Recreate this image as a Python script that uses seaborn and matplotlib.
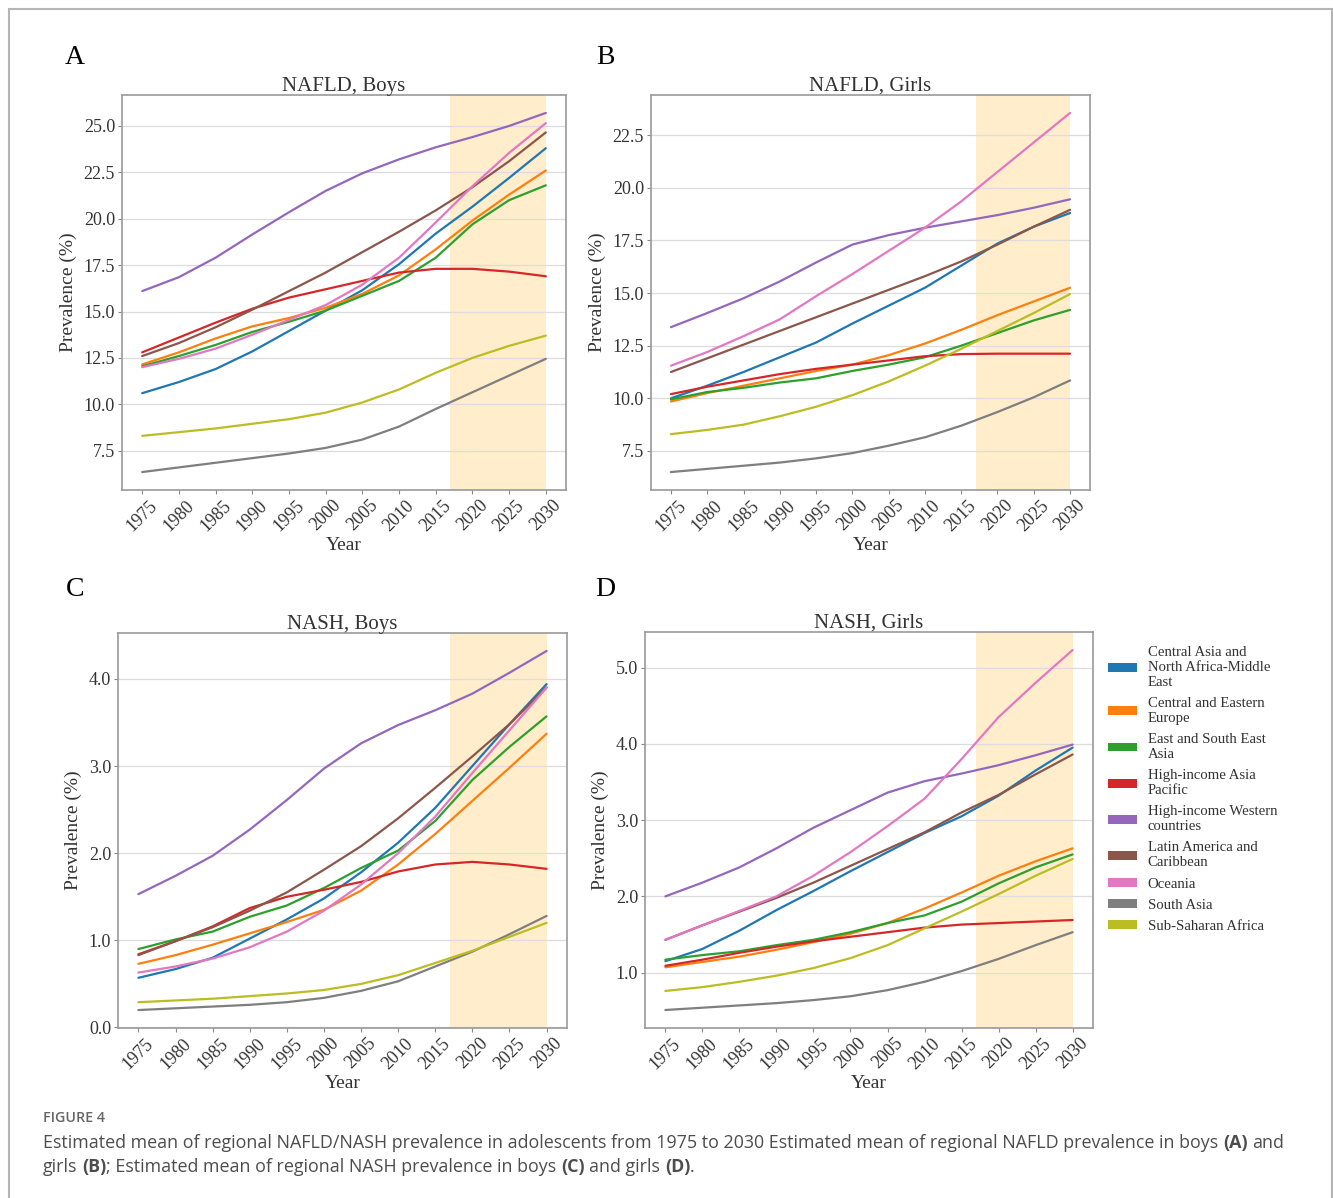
import matplotlib
matplotlib.use("Agg")
import matplotlib.pyplot as plt
from matplotlib.patches import Patch, Rectangle
import numpy as np
import pandas as pd
import seaborn as sns

years = [1975, 1980, 1985, 1990, 1995, 2000, 2005, 2010, 2015, 2020, 2025, 2030]

regions = [
    "Central Asia and North Africa-Middle East",
    "Central and Eastern Europe",
    "East and South East Asia",
    "High-income Asia Pacific",
    "High-income Western countries",
    "Latin America and Caribbean",
    "Oceania",
    "South Asia",
    "Sub-Saharan Africa",
]
legend_labels = [
    "Central Asia and\nNorth Africa-Middle\nEast",
    "Central and Eastern\nEurope",
    "East and South East\nAsia",
    "High-income Asia\nPacific",
    "High-income Western\ncountries",
    "Latin America and\nCaribbean",
    "Oceania",
    "South Asia",
    "Sub-Saharan Africa",
]

# values, one list per region (same order as `regions`)
nafld_boys = [
    [10.6, 11.2, 11.9, 12.85, 13.95, 15.05, 16.15, 17.55, 19.2, 20.65, 22.2, 23.8],
    [12.15, 12.8, 13.55, 14.2, 14.65, 15.2, 15.95, 16.95, 18.35, 19.9, 21.3, 22.6],
    [12.05, 12.6, 13.2, 13.9, 14.45, 15.05, 15.85, 16.65, 17.9, 19.7, 21.0, 21.8],
    [12.8, 13.6, 14.4, 15.15, 15.75, 16.2, 16.65, 17.1, 17.3, 17.3, 17.15, 16.9],
    [16.1, 16.85, 17.9, 19.15, 20.35, 21.5, 22.45, 23.2, 23.85, 24.4, 25.0, 25.7],
    [12.6, 13.3, 14.15, 15.1, 16.1, 17.1, 18.2, 19.3, 20.45, 21.7, 23.1, 24.65],
    [12.0, 12.45, 13.0, 13.75, 14.55, 15.35, 16.45, 17.9, 19.8, 21.75, 23.55, 25.15],
    [6.35, 6.6, 6.85, 7.1, 7.35, 7.65, 8.1, 8.8, 9.75, 10.65, 11.55, 12.45],
    [8.3, 8.5, 8.7, 8.95, 9.2, 9.55, 10.1, 10.8, 11.7, 12.5, 13.15, 13.7],
]
nafld_girls = [
    [10.0, 10.6, 11.25, 11.95, 12.65, 13.55, 14.4, 15.25, 16.3, 17.35, 18.15, 18.8],
    [9.85, 10.25, 10.6, 10.95, 11.3, 11.6, 12.05, 12.6, 13.25, 13.95, 14.6, 15.25],
    [9.95, 10.3, 10.5, 10.75, 10.95, 11.3, 11.6, 11.95, 12.5, 13.1, 13.7, 14.2],
    [10.2, 10.55, 10.85, 11.15, 11.4, 11.6, 11.8, 12.0, 12.1, 12.12, 12.12, 12.12],
    [13.38, 14.05, 14.75, 15.55, 16.45, 17.3, 17.75, 18.1, 18.4, 18.7, 19.05, 19.45],
    [11.25, 11.9, 12.55, 13.2, 13.85, 14.5, 15.15, 15.8, 16.5, 17.3, 18.15, 18.95],
    [11.55, 12.2, 12.95, 13.75, 14.85, 15.9, 17.0, 18.1, 19.35, 20.75, 22.15, 23.55],
    [6.5, 6.65, 6.8, 6.95, 7.15, 7.4, 7.75, 8.15, 8.7, 9.35, 10.05, 10.85],
    [8.3, 8.5, 8.75, 9.15, 9.6, 10.15, 10.8, 11.55, 12.35, 13.2, 14.05, 14.95],
]
nash_boys = [
    [0.57, 0.67, 0.8, 1.02, 1.24, 1.48, 1.78, 2.12, 2.52, 3.0, 3.48, 3.94],
    [0.73, 0.83, 0.95, 1.08, 1.21, 1.35, 1.57, 1.87, 2.22, 2.6, 2.98, 3.37],
    [0.9, 1.01, 1.1, 1.27, 1.4, 1.6, 1.83, 2.03, 2.37, 2.84, 3.22, 3.57],
    [0.84, 0.99, 1.16, 1.37, 1.5, 1.58, 1.67, 1.79, 1.87, 1.9, 1.87, 1.82],
    [1.53, 1.74, 1.97, 2.27, 2.61, 2.97, 3.26, 3.47, 3.64, 3.83, 4.07, 4.32],
    [0.83, 0.99, 1.15, 1.34, 1.55, 1.81, 2.08, 2.4, 2.75, 3.11, 3.48, 3.9],
    [0.63, 0.7, 0.79, 0.92, 1.1, 1.34, 1.64, 2.0, 2.42, 2.92, 3.41, 3.9],
    [0.2, 0.22, 0.24, 0.26, 0.29, 0.34, 0.42, 0.53, 0.7, 0.87, 1.07, 1.28],
    [0.29, 0.31, 0.33, 0.36, 0.39, 0.43, 0.5, 0.6, 0.74, 0.88, 1.04, 1.2],
]
nash_girls = [
    [1.15, 1.31, 1.55, 1.82, 2.07, 2.33, 2.58, 2.83, 3.05, 3.32, 3.65, 3.95],
    [1.07, 1.14, 1.21, 1.3, 1.4, 1.51, 1.65, 1.84, 2.05, 2.27, 2.46, 2.63],
    [1.17, 1.23, 1.28, 1.36, 1.43, 1.53, 1.65, 1.75, 1.93, 2.17, 2.38, 2.55],
    [1.09, 1.17, 1.26, 1.34, 1.41, 1.47, 1.53, 1.59, 1.63, 1.65, 1.67, 1.69],
    [2.0, 2.18, 2.38, 2.63, 2.9, 3.13, 3.36, 3.51, 3.61, 3.72, 3.85, 3.99],
    [1.43, 1.62, 1.8, 1.98, 2.18, 2.4, 2.62, 2.84, 3.1, 3.33, 3.6, 3.86],
    [1.43, 1.62, 1.81, 2.0, 2.27, 2.58, 2.92, 3.28, 3.8, 4.35, 4.8, 5.23],
    [0.51, 0.54, 0.57, 0.6, 0.64, 0.69, 0.77, 0.88, 1.02, 1.18, 1.36, 1.53],
    [0.76, 0.81, 0.88, 0.96, 1.06, 1.19, 1.36, 1.58, 1.8, 2.03, 2.27, 2.49],
]

panel_titles = ["NAFLD, Boys", "NAFLD, Girls", "NASH, Boys", "NASH, Girls"]
panel_letters = ["A", "B", "C", "D"]
projection_start, projection_end = 2017, 2030

sns.set_theme(style="whitegrid")
plt.rcParams["font.family"] = ["Liberation Serif", "DejaVu Serif"]
palette = sns.color_palette("tab10", len(regions))

W, H = 1333, 1198
fig = plt.figure(figsize=(W / 100, H / 100), dpi=100)

# axes boxes in pixels: left, top, right, bottom
boxes = [(122, 95, 566, 490), (651, 95, 1090, 490),
         (118, 633, 567, 1028), (645, 632, 1093, 1028)]
letter_pos = [(75, 57), (605, 57), (75, 590), (605, 590)]
yticks = [np.arange(7.5, 25.1, 2.5), np.arange(7.5, 22.6, 2.5),
          np.arange(0, 4.1, 1.0), np.arange(1, 5.1, 1.0)]


def to_long(values):
    rows = []
    for reg, vals in zip(regions, values):
        for yr, v in zip(years, vals):
            rows.append({"Year": yr, "Region": reg, "Prevalence": v})
    return pd.DataFrame(rows)


for i, data in enumerate([nafld_boys, nafld_girls, nash_boys, nash_girls]):
    l, t, r, b = boxes[i]
    ax = fig.add_axes([l / W, 1 - b / H, (r - l) / W, (b - t) / H])
    ax.axvspan(projection_start, projection_end, color="orange", alpha=0.2,
               lw=0, zorder=0)
    sns.lineplot(data=to_long(data), x="Year", y="Prevalence", hue="Region",
                 hue_order=regions, palette=palette, lw=1.6, legend=False,
                 ax=ax)
    ax.set_xticks(years)
    ax.set_xticklabels([str(y) for y in years], rotation=45, fontsize=13,
                       color="#333333")
    ax.set_yticks(yticks[i])
    ax.set_yticklabels([f"{v:.1f}" for v in yticks[i]], fontsize=13,
                       color="#333333")
    ax.grid(axis="x", visible=False)
    ax.grid(axis="y", color="#dcdcdc", lw=0.9)
    ax.set_axisbelow(True)
    ax.tick_params(axis="both", length=3, width=0.8, color="#888888", pad=2,
                   bottom=True, left=True)
    for sp in ax.spines.values():
        sp.set_color("#9a9a9a")
        sp.set_linewidth(1.2)
    ax.set_xlabel("Year", fontsize=14, color="#333333", labelpad=2)
    ax.set_ylabel("Prevalence (%)", fontsize=14, color="#333333", labelpad=5)
    ax.set_title(panel_titles[i], fontsize=15, color="#333333", pad=3)
    lx, ly = letter_pos[i]
    fig.text(lx / W, 1 - ly / H, panel_letters[i], fontsize=20, ha="center",
             va="center", color="black")

handles = [Patch(facecolor=c, edgecolor="none") for c in palette]
fig.legend(handles, legend_labels, loc="upper left",
           bbox_to_anchor=(1108 / W, 1 - 646 / H), frameon=False,
           fontsize=10.6, handlelength=1.95, handleheight=0.55,
           handletextpad=0.75, labelspacing=0.55, borderaxespad=0,
           borderpad=0)
for txt in fig.legends[0].get_texts():
    txt.set_linespacing(1.2)
    txt.set_color("#333333")

# figure frame
fig.add_artist(Rectangle((9 / W, -0.01), (1332 - 9) / W, 1 - 9 / H + 0.01,
                         transform=fig.transFigure, fill=False,
                         edgecolor="#b5b5b5", lw=1.5))

# caption
cap_font = ["Open Sans", "DejaVu Sans"]
fig.text(43 / W, 1 - 1118 / H, "FIGURE 4", family=cap_font, fontsize=10.3,
         fontweight="semibold", color="#666666", va="center")

renderer = fig.canvas.get_renderer()


def text_width(s, **kw):
    t = fig.text(0, 0, s, **kw)
    w = t.get_window_extent(renderer=renderer).width
    t.remove()
    return w


def draw_runs(x_px, y_px, runs, **kw):
    space = text_width("x x", **kw) - text_width("xx", **kw)
    for s, bold in runs:
        weight = "bold" if bold else "normal"
        x_px += space * (len(s) - len(s.lstrip(" ")))
        core = s.strip(" ")
        t = fig.text(x_px / W, 1 - y_px / H, core, fontweight=weight,
                     va="center", **kw)
        x_px += t.get_window_extent(renderer=renderer).width
        x_px += space * (len(s) - len(s.rstrip(" ")))


cap_kw = dict(family=cap_font, fontsize=12.9, color="#4d4d4d")
draw_runs(43, 1143, [
    ("Estimated mean of regional NAFLD/NASH prevalence in adolescents from "
     "1975 to 2030 Estimated mean of regional NAFLD prevalence in boys ", False),
    ("(A)", True), (" and", False)], **cap_kw)
draw_runs(43, 1167, [
    ("girls ", False), ("(B)", True),
    ("; Estimated mean of regional NASH prevalence in boys ", False),
    ("(C)", True), (" and girls ", False), ("(D)", True), (".", False)],
    **cap_kw)

fig.savefig("out.png", dpi=100)
